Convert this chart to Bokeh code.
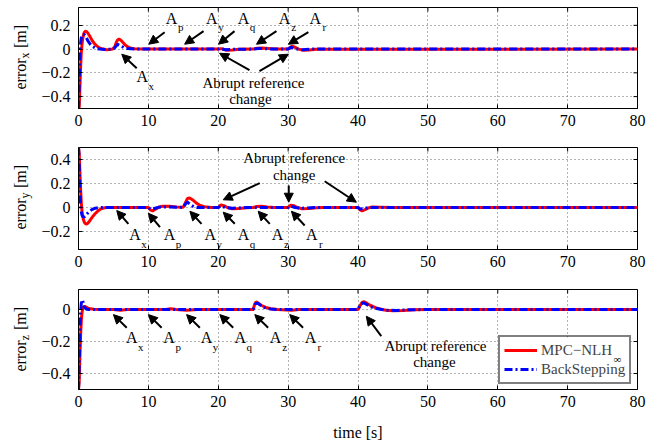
import math
from bokeh.plotting import figure
from bokeh.layouts import column, row
from bokeh.models import (ColumnDataSource, Range1d, FixedTicker,
                          CustomJSTickFormatter, Arrow, NormalHead,
                          Legend, LegendItem)
from bokeh.core.properties import value
from bokeh.embed import file_html
from bokeh.resources import INLINE

# ---------------- data (time [s], error [m]) ----------------
x_ticks = [0, 10, 20, 30, 40, 50, 60, 70, 80]

ex_mpc = [(0, -0.5), (0.1, -0.49), (0.2, -0.33), (0.3, -0.15), (0.4, -0.03), (0.5, 0.04),
          (0.6, 0.085), (0.7, 0.115), (0.8, 0.135), (0.9, 0.145), (1.0, 0.15), (1.1, 0.149),
          (1.2, 0.145), (1.4, 0.13), (1.6, 0.11), (1.8, 0.088), (2.0, 0.068), (2.3, 0.045),
          (2.6, 0.027), (3.0, 0.01), (3.5, 0.0), (4.0, -0.005), (4.5, -0.004), (4.9, 0.0),
          (5.2, 0.02), (5.4, 0.055), (5.6, 0.078), (5.8, 0.083), (6.0, 0.078), (6.3, 0.06),
          (6.6, 0.04), (7.0, 0.02), (7.5, 0.007), (8.0, 0.002), (9.0, 0.0), (20.0, 0.0),
          (20.3, 0.004), (20.7, 0.0), (21.2, -0.01), (22.0, -0.008), (23.0, -0.002), (25.0, 0.0),
          (25.6, 0.008), (26.3, 0.01), (27.2, 0.005), (28.0, 0.0), (30.0, 0.0), (30.3, 0.015),
          (30.6, 0.025), (31.0, 0.015), (31.5, 0.0), (32.2, -0.01), (33.0, -0.008), (34.0, -0.002),
          (80.0, 0.0)]
ex_bs = [(0, -0.5), (0.05, -0.42), (0.1, -0.3), (0.2, -0.06), (0.3, 0.05), (0.4, 0.095),
         (0.55, 0.118), (0.7, 0.125), (0.9, 0.115), (1.1, 0.095), (1.4, 0.065), (1.7, 0.04),
         (2.0, 0.022), (2.5, 0.006), (3.0, 0.0), (4.0, -0.003), (5.0, 0.0), (5.3, 0.02),
         (5.6, 0.04), (6.0, 0.03), (6.5, 0.012), (7.0, 0.004), (8.0, 0.0), (20.0, 0.0),
         (20.3, 0.004), (21.0, -0.006), (22.0, -0.002), (25.0, 0.0), (26.0, 0.006), (27.5, 0.0),
         (30.0, 0.0), (30.4, 0.015), (31.0, 0.004), (32.0, -0.006), (33.5, 0.0), (80.0, 0.0)]

ey_mpc = [(0, 0.5), (0.1, 0.45), (0.2, 0.3), (0.3, 0.15), (0.4, 0.04), (0.5, -0.03),
          (0.6, -0.07), (0.7, -0.1), (0.85, -0.125), (1.05, -0.138), (1.25, -0.135), (1.5, -0.12),
          (1.8, -0.095), (2.1, -0.07), (2.4, -0.05), (2.8, -0.028), (3.2, -0.012), (3.6, -0.004),
          (4.0, 0.0), (10.0, 0.0), (10.3, -0.02), (10.6, -0.028), (11.0, -0.015), (11.5, 0.003),
          (12.0, 0.01), (13.0, 0.01), (14.0, 0.005), (15.0, 0.003), (15.3, 0.04), (15.6, 0.075),
          (15.9, 0.08), (16.3, 0.065), (16.8, 0.04), (17.3, 0.02), (18.0, 0.006), (19.0, 0.0),
          (20.0, 0.0), (20.4, 0.022), (20.8, 0.015), (21.3, 0.0), (22.0, -0.01), (23.0, -0.008),
          (24.0, -0.002), (25.0, 0.0), (25.5, 0.008), (26.2, 0.01), (27.0, 0.004), (28.0, 0.0),
          (30.0, 0.0), (30.4, 0.02), (30.8, 0.015), (31.3, 0.0), (32.0, -0.01), (33.0, -0.008),
          (34.0, -0.003), (35.0, 0.0), (40.0, 0.0), (40.3, -0.02), (40.6, -0.028), (41.0, -0.018),
          (41.5, -0.003), (42.0, 0.004), (43.0, 0.003), (45.0, 0.0), (80.0, 0.0)]
ey_bs = [(0, 0.5), (0.05, 0.45), (0.15, 0.25), (0.25, 0.08), (0.35, -0.02), (0.5, -0.065),
         (0.7, -0.08), (0.9, -0.075), (1.2, -0.055), (1.5, -0.035), (1.9, -0.018), (2.4, -0.006),
         (3.0, 0.0), (10.0, 0.0), (10.3, -0.015), (10.7, -0.01), (11.5, 0.003), (13.0, 0.005),
         (15.0, 0.0), (15.3, 0.03), (15.6, 0.045), (16.0, 0.025), (16.5, 0.006), (17.0, 0.0),
         (20.0, 0.0), (20.3, 0.012), (21.0, 0.0), (22.0, -0.006), (24.0, 0.0), (30.0, 0.0),
         (30.3, 0.012), (31.0, 0.0), (32.0, -0.006), (34.0, 0.0), (40.0, 0.0), (40.3, -0.012),
         (40.8, -0.01), (41.5, 0.0), (80.0, 0.0)]

ez_mpc = [(0, -0.5), (0.1, -0.45), (0.2, -0.3), (0.3, -0.16), (0.4, -0.07), (0.5, -0.02),
          (0.6, 0.005), (0.7, 0.016), (0.85, 0.02), (1.0, 0.017), (1.3, 0.01), (1.7, 0.004),
          (2.2, 0.001), (3.0, 0.0), (5.0, 0.0), (6.0, -0.004), (7.0, 0.0), (12.5, 0.0),
          (13.2, 0.005), (14.0, 0.0), (15.5, -0.004), (17.0, 0.0), (25.0, 0.0), (25.2, 0.03),
          (25.4, 0.048), (25.7, 0.04), (26.2, 0.025), (26.8, 0.013), (27.5, 0.005), (28.5, 0.0),
          (30.5, -0.004), (31.5, 0.0), (40.0, 0.0), (40.3, 0.025), (40.6, 0.045), (40.9, 0.048),
          (41.3, 0.038), (41.8, 0.025), (42.5, 0.012), (43.3, 0.002), (44.0, -0.005), (45.0, -0.008),
          (46.5, -0.006), (48.0, -0.002), (50.0, 0.0), (80.0, 0.0)]
ez_bs = [(0, -0.5), (0.1, -0.35), (0.2, -0.15), (0.3, -0.02), (0.4, 0.04), (0.5, 0.06),
         (0.6, 0.055), (0.75, 0.03), (0.9, 0.012), (1.1, 0.003), (1.4, 0.0), (25.0, 0.0),
         (25.3, 0.035), (25.6, 0.04), (26.0, 0.028), (26.6, 0.012), (27.5, 0.003), (28.5, 0.0),
         (40.0, 0.0), (40.4, 0.035), (40.8, 0.042), (41.3, 0.03), (42.0, 0.014), (43.0, 0.003),
         (44.0, -0.004), (45.5, -0.006), (47.0, -0.002), (50.0, 0.0), (80.0, 0.0)]

series_names = ["MPC\u2212NLH", "BackStepping"]
legend_sub = "\u221e"
ylabel_subs = ["x", "y", "z"]
xlabel = "time [s]"

# ---------------- annotations ----------------
ax_subs = [("x", 9.14, -0.234), ("p", 13.33, 0.258), ("y", 19.09, 0.258),
           ("q", 23.6, 0.258), ("z", 29.5, 0.258), ("r", 33.9, 0.258)]
ax_arrows = [(8.33, -0.161, 6.19, -0.043), (12.33, 0.142, 10.06, 0.041), (17.9, 0.151, 15.19, 0.041),
             (22.33, 0.151, 20.04, 0.041), (28.33, 0.151, 25.47, 0.041), (32.9, 0.142, 30.04, 0.041),
             (24.47, -0.178, 20.19, -0.035), (25.9, -0.186, 30.04, -0.043)]
ax_texts = [("Abrupt reference", 25.04, -0.287), ("change", 24.6, -0.422)]

ay_subs = [("x", 8.09, -0.227), ("p", 13.04, -0.227), ("y", 18.86, -0.227),
           ("q", 23.61, -0.227), ("z", 28.47, -0.227), ("r", 33.4, -0.227)]
ay_arrows = [(7.14, -0.136, 5.47, -0.025), (11.66, -0.164, 10.0, -0.048), (17.61, -0.136, 15.94, -0.031),
             (22.37, -0.136, 20.71, -0.039), (27.37, -0.136, 25.71, -0.031), (32.37, -0.15, 30.47, -0.031),
             (25.94, 0.203, 20.71, 0.064), (30.09, 0.183, 30.09, 0.044), (35.23, 0.219, 39.76, 0.044)]
ay_texts = [("Abrupt reference", 30.87, 0.414), ("change", 30.86, 0.267)]

az_subs = [("x", 7.61, -0.176), ("p", 12.97, -0.176), ("y", 18.33, -0.176),
           ("q", 23.16, -0.176), ("z", 28.21, -0.176), ("r", 33.19, -0.176)]
az_arrows = [(6.9, -0.114, 5.0, -0.032), (11.9, -0.114, 10.0, -0.032), (17.37, -0.114, 15.47, -0.032),
             (22.14, -0.114, 20.23, -0.032), (27.14, -0.114, 25.23, -0.032), (32.14, -0.114, 30.23, -0.032),
             (43.33, -0.166, 41.19, -0.042)]
az_texts = [("Abrupt reference", 51.09, -0.227), ("change", 50.94, -0.330)]

FONT = "Liberation Serif"
W = 646
LABW = 38                 # width of the strip holding the rotated y labels
BL, BR, BT = 77, 9, 7     # borders measured from the page's left edge
FW = W - BL - BR          # frame width in px
TICK = 4                  # inward tick length in px

# legend box in px, relative to the frame's bottom-left corner
LEG_X, LEG_Y, LEG_W, LEG_H = 420, 5, 133, 47

panels = [
    dict(h=140, bb=32, yr=(-0.5, 0.35), yt=[-0.4, -0.2, 0, 0.2], mpc=ex_mpc, bs=ex_bs,
         subs=ax_subs, arrows=ax_arrows, texts=ax_texts),
    dict(h=142, bb=33, yr=(-0.35, 0.5), yt=[-0.2, 0, 0.2, 0.4], mpc=ey_mpc, bs=ey_bs,
         subs=ay_subs, arrows=ay_arrows, texts=ay_texts),
    dict(h=165, bb=58, yr=(-0.5, 0.125), yt=[-0.4, -0.2, 0], mpc=ez_mpc, bs=ez_bs,
         subs=az_subs, arrows=az_arrows, texts=az_texts),
]
TOTAL_H = sum(P["h"] for P in panels)

yfmt_code = """
if (Math.abs(tick) < 1e-9) { return '0'; }
return tick < 0 ? '\\u2212' + (-tick).toFixed(1) : tick.toFixed(1);
"""


def style_axis(ax, ticks, fmt=None):
    ax.ticker = FixedTicker(ticks=ticks)
    ax.major_tick_in = TICK
    ax.major_tick_out = 0
    ax.minor_tick_line_color = None
    ax.axis_line_color = "black"
    ax.axis_line_width = 1
    ax.major_tick_line_color = "black"
    ax.major_tick_line_width = 1
    ax.major_label_text_font = FONT
    ax.major_label_text_font_size = "16px"
    ax.major_label_text_color = "black"
    if fmt is not None:
        ax.formatter = fmt


# ---- strip with the rotated y-axis labels "error_x [m]" etc ----
lab = figure(width=LABW, height=TOTAL_H, x_range=Range1d(0, LABW), y_range=Range1d(TOTAL_H, 0),
             output_backend="svg", toolbar_location=None, x_axis_type=None, y_axis_type=None,
             min_border=0, min_border_left=0, min_border_right=0, min_border_top=0,
             min_border_bottom=0)
lab.outline_line_color = None
lab.background_fill_color = "white"
lab.border_fill_color = "white"
S = 48  # subscript centre below each frame top (px)
tops = []
acc = 0
for P in panels:
    tops.append(acc + BT)
    acc += P["h"]
main_src = ColumnDataSource(dict(x=[20] * 3, y=[t + S + 34 for t in tops], s=["error"] * 3))
sub_src = ColumnDataSource(dict(x=[24] * 3, y=[t + S for t in tops], s=ylabel_subs))
unit_src = ColumnDataSource(dict(x=[20] * 3, y=[t + S - 7.5 for t in tops], s=["[m]"] * 3))
lab.text(x="x", y="y", text="s", source=main_src, angle=math.pi / 2, text_font=value(FONT),
         text_font_size="16px", text_align="left", text_baseline="alphabetic", text_color="black")
lab.text(x="x", y="y", text="s", source=sub_src, angle=math.pi / 2, text_font=value(FONT),
         text_font_size="12px", text_align="center", text_baseline="middle", text_color="black")
lab.text(x="x", y="y", text="s", source=unit_src, angle=math.pi / 2, text_font=value(FONT),
         text_font_size="16px", text_align="left", text_baseline="alphabetic", text_color="black")

figs = []
for i, P in enumerate(panels):
    y0, y1 = P["yr"]
    fh = P["h"] - BT - P["bb"]
    xs = 80.0 / FW            # data units per px (x)
    ys = (y1 - y0) / fh       # data units per px (y)
    p = figure(width=W - LABW, height=P["h"], x_range=Range1d(0, 80), y_range=Range1d(y0, y1),
               output_backend="svg", toolbar_location=None,
               min_border_left=BL - LABW, min_border_right=BR, min_border_top=BT,
               min_border_bottom=P["bb"])
    p.background_fill_color = "white"
    p.border_fill_color = "white"
    p.outline_line_color = "black"
    p.outline_line_width = 1

    xax = p.below[0]
    yax = p.left[0]
    style_axis(xax, x_ticks)
    xax.major_label_standoff = 6
    style_axis(yax, P["yt"], CustomJSTickFormatter(code=yfmt_code))
    yax.major_label_standoff = 8

    p.xgrid.ticker = FixedTicker(ticks=x_ticks)
    p.ygrid.ticker = FixedTicker(ticks=P["yt"])
    p.grid.grid_line_color = "#666666"
    p.grid.grid_line_dash = "1 3"
    p.grid.grid_line_width = 1

    # inward ticks on the top and right edges (MATLAB box style)
    p.segment(x0=x_ticks, y0=[y1] * len(x_ticks), x1=x_ticks, y1=[y1 - TICK * ys] * len(x_ticks),
              line_color="black", line_width=1)
    p.segment(x0=[80] * len(P["yt"]), y0=P["yt"], x1=[80 - TICK * xs] * len(P["yt"]), y1=P["yt"],
              line_color="black", line_width=1)

    tm, vm = zip(*P["mpc"])
    tb, vb = zip(*P["bs"])
    r1 = p.line(list(tm), list(vm), line_color="#ff0000", line_width=3)
    r2 = p.line(list(tb), list(vb), line_color="#0000ff", line_width=3, line_dash="8 3 2 3")

    # arrows
    a0, b0, a1, b1 = zip(*P["arrows"])
    asrc = ColumnDataSource(dict(x0=list(a0), y0=list(b0), x1=list(a1), y1=list(b1)))
    p.add_layout(Arrow(end=NormalHead(size=9, line_color="black", fill_color="black", line_width=1),
                       source=asrc, x_start="x0", y_start="y0", x_end="x1", y_end="y1",
                       line_color="black", line_width=2))

    # A labels with subscripts
    s, st, sv = zip(*P["subs"])
    ssrc = ColumnDataSource(dict(t=list(st), v=list(sv), A=["A"] * len(s), s=list(s)))
    p.text(x="t", y="v", text="A", source=ssrc, text_font=value(FONT), text_font_size="16px",
           text_align="center", text_baseline="middle", text_color="black")
    p.text(x="t", y="v", text="s", source=ssrc, text_font=value(FONT), text_font_size="11px",
           text_align="center", text_baseline="middle", text_color="black",
           x_offset=9, y_offset=9)

    # explanation texts
    tt, tx, ty = zip(*P["texts"])
    tsrc = ColumnDataSource(dict(t=list(tx), v=list(ty), s=list(tt)))
    p.text(x="t", y="v", text="s", source=tsrc, text_font=value(FONT), text_font_size="15px",
           text_align="center", text_baseline="middle", text_color="black")

    if i == 2:
        xax.axis_label = xlabel
        xax.axis_label_text_font = FONT
        xax.axis_label_text_font_size = "16px"
        xax.axis_label_text_font_style = "normal"
        xax.axis_label_text_color = "black"
        xax.axis_label_standoff = 14
        # white patch under the (transparent) legend so the grid is hidden there
        p.quad(left=[LEG_X * xs], right=[(LEG_X + LEG_W) * xs],
               bottom=[y0 + LEG_Y * ys], top=[y0 + (LEG_Y + LEG_H) * ys],
               fill_color="white", line_color=None)
        # subscript of the first legend entry
        p.text(x=[(617 - BL) * xs], y=[y0 + (LEG_Y + LEG_H - 21) * ys], text=[legend_sub],
               text_font=value(FONT), text_font_size="11px", text_align="center",
               text_baseline="middle", text_color="black")
        leg = Legend(items=[LegendItem(label=series_names[0], renderers=[r1]),
                            LegendItem(label=series_names[1], renderers=[r2])],
                     location=(LEG_X, LEG_Y))
        leg.border_line_color = "black"
        leg.border_line_width = 2
        leg.background_fill_alpha = 0
        leg.label_text_font = FONT
        leg.label_text_font_size = "15px"
        leg.glyph_width = 33
        leg.glyph_height = 18
        leg.label_height = 18
        leg.spacing = 1
        leg.padding = 4
        leg.margin = 0
        leg.label_standoff = 4
        p.add_layout(leg)
    figs.append(p)

layout = row(lab, column(*figs, spacing=0), spacing=0)
open("out.html", "w").write(file_html(layout, INLINE))
